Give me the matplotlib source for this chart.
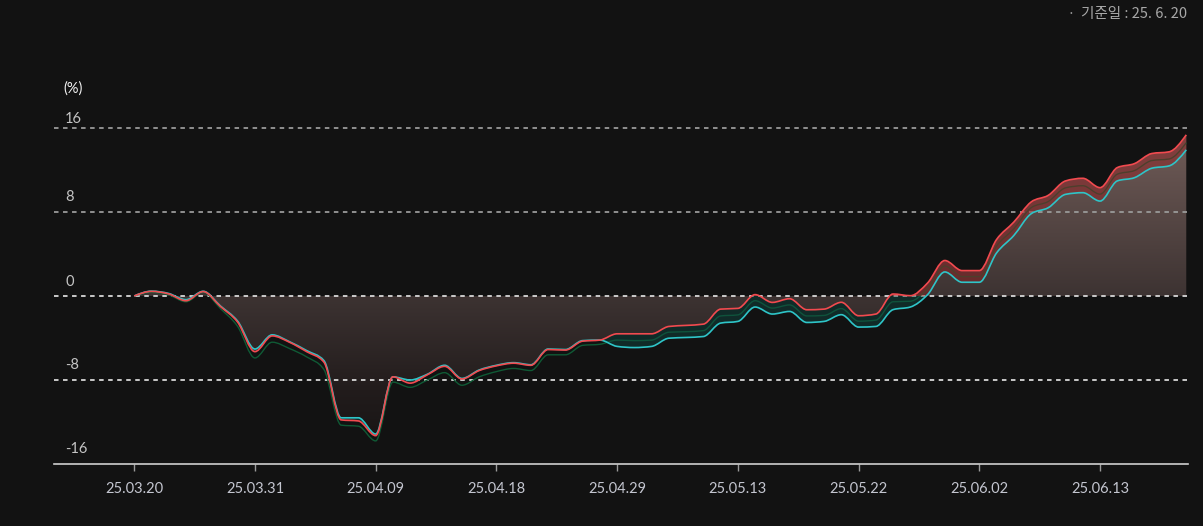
import numpy as np
import matplotlib
matplotlib.use("Agg")
import matplotlib.pyplot as plt
from matplotlib.path import Path
from matplotlib.patches import PathPatch, Rectangle
from matplotlib.colors import LinearSegmentedColormap

# ---------------- data ----------------
tick_labels = ["25.03.20", "25.03.31", "25.04.09", "25.04.18", "25.04.29",
               "25.05.13", "25.05.22", "25.06.02", "25.06.13"]
tick_index = [0, 7, 14, 21, 28, 35, 42, 49, 56]
y_ticks = [16, 8, 0, -8, -16]

fund = [0.0, 0.44, 0.2, -0.45, 0.42, -1.0, -2.5, -5.3, -3.8, -4.4,
        -5.3, -6.3, -11.8, -11.9, -13.3, -7.7, -8.3, -7.5, -6.7, -7.9,
        -7.1, -6.65, -6.4, -6.6, -5.1, -5.15, -4.3, -4.2, -3.6, -3.6,
        -3.6, -2.9, -2.8, -2.68, -1.25, -1.18, 0.13, -0.61, -0.26, -1.31,
        -1.25, -0.6, -1.88, -1.72, 0.19, 0.03, 1.24, 3.38, 2.42, 2.42,
        5.38, 7.04, 8.95, 9.59, 10.96, 11.21, 10.32, 12.23, 12.61, 13.57,
        13.73, 15.35]
bench = [0.0, 0.46, 0.24, -0.35, 0.45, -0.95, -2.4, -5.05, -3.7, -4.35,
         -5.2, -6.15, -11.6, -11.6, -13.15, -7.7, -8.0, -7.45, -6.6, -7.85,
         -7.05, -6.6, -6.35, -6.55, -5.05, -5.1, -4.25, -4.2, -4.8, -4.91,
         -4.8, -4.02, -3.95, -3.86, -2.58, -2.42, -1.05, -1.72, -1.47, -2.52,
         -2.42, -1.78, -2.96, -2.9, -1.3, -1.05, 0.13, 2.29, 1.31, 1.31,
         4.1, 5.76, 7.83, 8.41, 9.68, 9.84, 9.04, 10.96, 11.27, 12.17,
         12.39, 13.92]
peer = [0.0, 0.35, 0.1, -0.55, 0.35, -1.2, -2.9, -5.9, -4.4, -5.0,
        -5.8, -7.0, -12.3, -12.4, -13.8, -8.2, -8.7, -8.0, -7.3, -8.5,
        -7.7, -7.2, -6.9, -7.1, -5.6, -5.6, -4.7, -4.6, -4.2, -4.25,
        -4.2, -3.45, -3.4, -3.3, -1.9, -1.8, -0.45, -1.15, -0.85, -1.9,
        -1.85, -1.2, -2.4, -2.3, -0.55, -0.5, 0.7, 2.85, 1.85, 1.85,
        4.75, 6.4, 8.4, 9.0, 10.3, 10.5, 9.7, 11.6, 11.95, 12.9,
        13.05, 14.6]

# ---------------- helpers ----------------
def mono_vertices(x, y):
    x = np.asarray(x, float); y = np.asarray(y, float)
    n = len(x)
    h = np.diff(x); s = np.diff(y) / h
    m = np.zeros(n)
    for i in range(1, n - 1):
        s0, s1, h0, h1 = s[i - 1], s[i], h[i - 1], h[i]
        p = (s0 * h1 + s1 * h0) / (h0 + h1)
        m[i] = (np.sign(s0) + np.sign(s1)) * min(abs(s0), abs(s1), 0.5 * abs(p))
    m[0] = (3 * s[0] - m[1]) / 2
    m[-1] = (3 * s[-1] - m[-2]) / 2
    verts = [(x[0], y[0])]
    codes = [Path.MOVETO]
    for i in range(n - 1):
        d = h[i] / 3
        verts += [(x[i] + d, y[i] + m[i] * d), (x[i + 1] - d, y[i + 1] - m[i + 1] * d), (x[i + 1], y[i + 1])]
        codes += [Path.CURVE4] * 3
    return verts, codes

idx = np.arange(len(fund))
fv, fc = mono_vertices(idx, fund)
bv, bc = mono_vertices(idx, bench)
pv, pc = mono_vertices(idx, peer)

W, H = 1203, 526
fig = plt.figure(figsize=(W / 100, H / 100), dpi=100)
bg = "#121212"
fig.patch.set_facecolor(bg)

ax_l, ax_r = 54 / W, 1188 / W
ymin, ymax = -16, 16.6
px_per = 10.5
bottom_px = 464
top_px = bottom_px - (ymax - ymin) * px_per
ax = fig.add_axes([ax_l, 1 - bottom_px / H, ax_r - ax_l, (bottom_px - top_px) / H])
ax.set_facecolor(bg)
xmin, xmax = -4.65, 61.1
ax.set_xlim(xmin, xmax)
ax.set_ylim(ymin, ymax)
for sp in ["top", "right", "left"]:
    ax.spines[sp].set_visible(False)
ax.spines["bottom"].set_color("#cfcfcf")
ax.spines["bottom"].set_linewidth(1.2)
ax.set_yticks([])

# grid lines
for v in y_ticks[:-1]:
    col = "#9a9a9a" if v > 0 else "#d8d8d8"
    ax.axhline(v, color=col, lw=1.3, ls=(0, (2.5, 2.5)), zorder=2)

# gradient fill between 0 and fund line
area_verts = fv + [(idx[-1], 0), (idx[0], 0), (idx[0], 0)]
area_codes = fc + [Path.LINETO, Path.LINETO, Path.CLOSEPOLY]
area_patch = PathPatch(Path(area_verts, area_codes), facecolor="none", edgecolor="none")
ax.add_patch(area_patch)
cmap = LinearSegmentedColormap.from_list(
    "g", [(0.0, "#141212"), (0.22, "#221c1c"), (0.5, "#3d3332"), (1.0, "#735e5a")])
grad = np.linspace(0, 1, 256).reshape(-1, 1)
im = ax.imshow(grad, extent=[xmin, xmax, -16, 16], origin="lower", aspect="auto",
               cmap=cmap, zorder=1, interpolation="bilinear")
im.set_clip_path(area_patch)

# peer (green) line
ax.add_patch(PathPatch(Path(pv, pc), facecolor="none", edgecolor="#0f5a35", lw=1.0, zorder=3))

# band between fund and bench
rev = bv[::-1]
band_verts = fv + rev + [fv[0]]
band_codes = fc + [Path.LINETO] + [Path.CURVE4] * (len(rev) - 1) + [Path.CLOSEPOLY]
band_path = Path(band_verts, band_codes)
pos_patch = PathPatch(band_path, facecolor="#9a1f22", edgecolor="none", alpha=0.45, zorder=4)
neg_patch = PathPatch(band_path, facecolor="#0f4a44", edgecolor="none", alpha=0.45, zorder=4)
ax.add_patch(pos_patch)
ax.add_patch(neg_patch)
pos_clip = Rectangle((xmin, 0), xmax - xmin, 40, transform=ax.transData)
neg_clip = Rectangle((xmin, -40), xmax - xmin, 40, transform=ax.transData)
pos_patch.set_clip_path(pos_clip)
neg_patch.set_clip_path(neg_clip)

# lines
ax.add_patch(PathPatch(Path(bv, bc), facecolor="none", edgecolor="#2ec5c8", lw=1.2, zorder=5))
ax.add_patch(PathPatch(Path(fv, fc), facecolor="none", edgecolor="#f24a4f", lw=1.2, zorder=6))

# x ticks
ax.set_xticks(tick_index)
ax.set_xticklabels(tick_labels)
ax.tick_params(axis="x", colors="#9a9a9a", length=5, width=1, pad=8, labelsize=10.5,
               labelcolor="#c4c6d0")
for t in ax.get_xticklabels():
    t.set_fontfamily("Lato")

# y labels as text
ylabel_px = {16: 119, 8: 197, 0: 282, -8: 365, -16: 449}
for v in y_ticks:
    fig.text(65 / W, 1 - ylabel_px[v] / H, f"{v}", color="#c4c4c4", fontsize=10.5,
             family="Lato", ha="left", va="center")
fig.text(63 / W, 1 - 89 / H, "(%)", color="#f2f2f2", fontsize=10.5, family="Lato",
         ha="left", va="center")
fig.text(1187 / W, 1 - 14 / H, "기준일 : 25. 6. 20", color="#a8a8a8", fontsize=10.5,
         family=["Noto Sans CJK KR", "DejaVu Sans"], ha="right", va="center")
fig.text(1071 / W, 1 - 14 / H, "·", color="#8a8a8a", fontsize=10.5,
         family="DejaVu Sans", ha="center", va="center")

fig.savefig("out.png", dpi=100, facecolor=bg)
